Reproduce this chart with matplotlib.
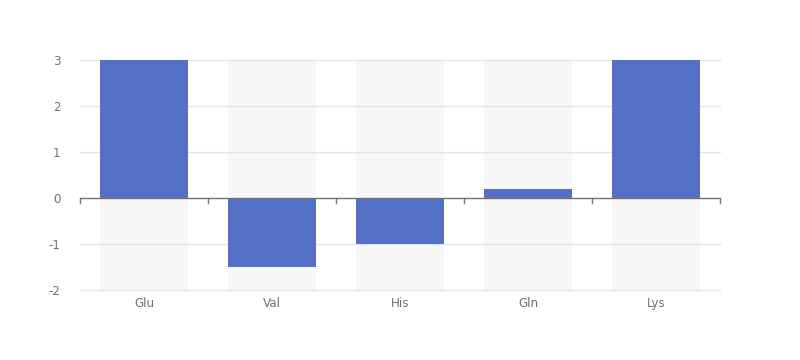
import numpy as np
import matplotlib
matplotlib.use('Agg')
import matplotlib.pyplot as plt

categories = ['Glu', 'Val', 'His', 'Gln', 'Lys']
values = [3.0, -1.5, -1.0, 0.2, 3.0]
y_min, y_max = -2, 3

fig = plt.figure(figsize=(8, 3.6), dpi=100)
ax = fig.add_axes([0.1, 70 / 360, 0.8, 230 / 360])

x = np.arange(len(categories))
bw = 88 / 128

# background bars
ax.bar(x, [y_max - y_min] * len(x), bottom=y_min, width=bw, color='#f7f7f7', zorder=1)
ax.bar(x, values, width=bw, color='#5470c6', zorder=3)

ax.set_xlim(-0.5, len(categories) - 0.5)
ax.set_ylim(y_min, y_max)
ticks = list(range(y_min, y_max + 1))
ax.set_yticks(ticks)
ax.set_yticklabels([str(t) for t in ticks])
for yv in ticks:
    if yv != 0:
        ax.axhline(yv, color='#e0e6f1', lw=1, zorder=2, clip_on=False)

for s in ['top', 'right', 'left', 'bottom']:
    ax.spines[s].set_visible(False)

# zero axis line with boundary ticks
ax.axhline(0, color='#6e7079', lw=1, zorder=4)
for b in np.arange(-0.5, len(categories), 1.0):
    ax.plot([b, b], [0, -5 / 46], color='#6e7079', lw=1, zorder=4, clip_on=False)

ax.tick_params(axis='y', length=0, labelsize=8.6, labelcolor='#6e7079', pad=14)
ax.set_xticks(x)
ax.set_xticklabels(categories)
ax.tick_params(axis='x', length=0, labelsize=8.6, labelcolor='#6e7079', pad=5)

fig.savefig('out.png', dpi=100)
